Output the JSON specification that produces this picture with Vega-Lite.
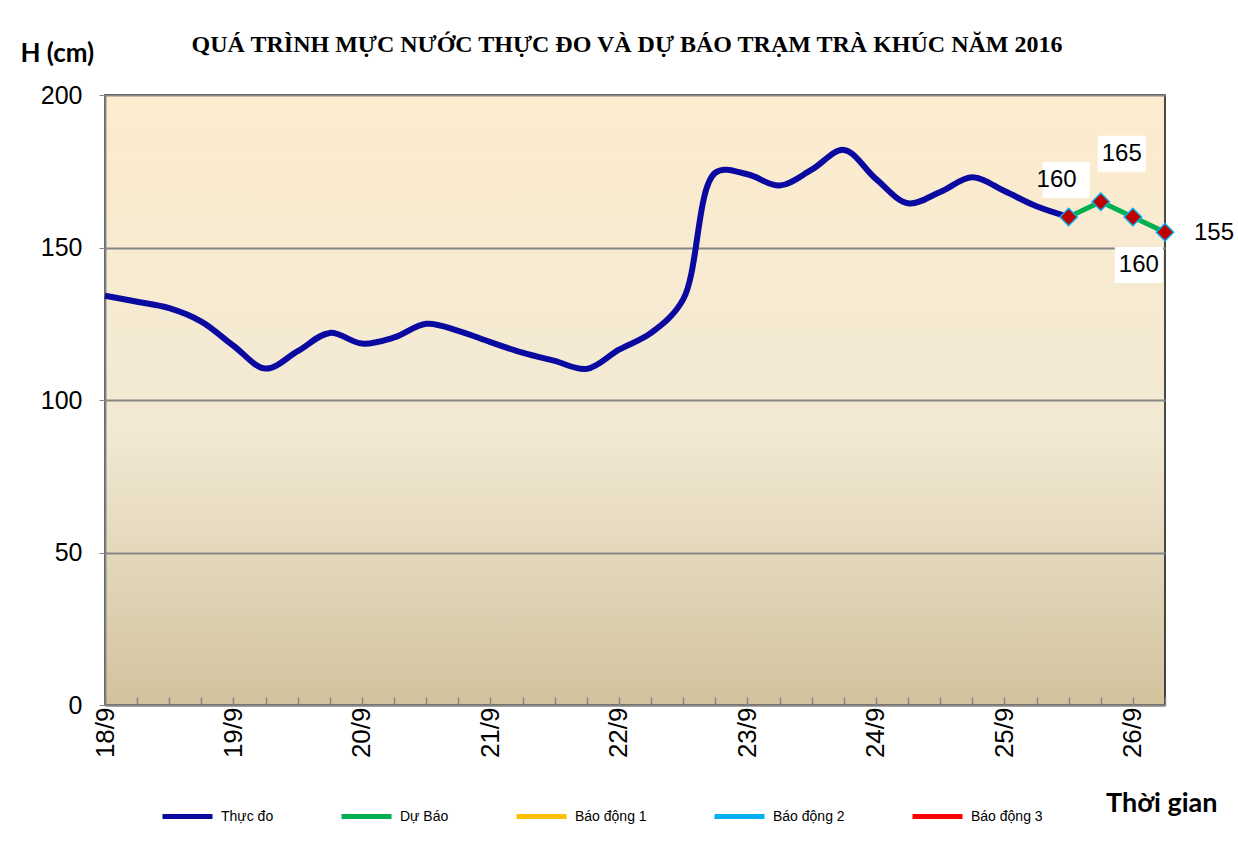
{
  "$schema": "https://vega.github.io/schema/vega-lite/v6.json",
  "width": 1060,
  "height": 610,
  "autosize": {"type": "none"},
  "padding": {"left": 105, "top": 95, "right": 73, "bottom": 147},
  "background": "white",
  "config": {
    "font": "Liberation Sans",
    "view": {
      "stroke": "#111111",
      "strokeWidth": 1.5,
      "fill": {
        "gradient": "linear",
        "x1": 0, "y1": 0, "x2": 0, "y2": 1,
        "stops": [
          {"offset": 0, "color": "#fdecce"},
          {"offset": 0.55, "color": "#f2e9d4"},
          {"offset": 1, "color": "#d2c39e"}
        ]
      }
    }
  },
  "title": {
    "text": "QUÁ TRÌNH MỰC NƯỚC THỰC ĐO VÀ DỰ BÁO TRẠM TRÀ KHÚC NĂM 2016",
    "font": "Liberation Serif",
    "fontSize": 24,
    "fontWeight": "bold",
    "color": "#000000",
    "anchor": "middle",
    "dx": -8,
    "dy": 21
  },
  "data": {
    "values": [
      {"t": "2016-09-18T00:00Z", "series": "Thực đo", "h": 134.2},
      {"t": "2016-09-18T06:00Z", "series": "Thực đo", "h": 132.2},
      {"t": "2016-09-18T12:00Z", "series": "Thực đo", "h": 130.1},
      {"t": "2016-09-18T18:00Z", "series": "Thực đo", "h": 125.7},
      {"t": "2016-09-19T00:00Z", "series": "Thực đo", "h": 117.8},
      {"t": "2016-09-19T06:00Z", "series": "Thực đo", "h": 110.3},
      {"t": "2016-09-19T12:00Z", "series": "Thực đo", "h": 116},
      {"t": "2016-09-19T18:00Z", "series": "Thực đo", "h": 122},
      {"t": "2016-09-20T00:00Z", "series": "Thực đo", "h": 118.5},
      {"t": "2016-09-20T06:00Z", "series": "Thực đo", "h": 120.5},
      {"t": "2016-09-20T12:00Z", "series": "Thực đo", "h": 125},
      {"t": "2016-09-20T18:00Z", "series": "Thực đo", "h": 122.7},
      {"t": "2016-09-21T00:00Z", "series": "Thực đo", "h": 119},
      {"t": "2016-09-21T06:00Z", "series": "Thực đo", "h": 115.5},
      {"t": "2016-09-21T12:00Z", "series": "Thực đo", "h": 112.8},
      {"t": "2016-09-21T18:00Z", "series": "Thực đo", "h": 110.2},
      {"t": "2016-09-22T00:00Z", "series": "Thực đo", "h": 116.5},
      {"t": "2016-09-22T06:00Z", "series": "Thực đo", "h": 122},
      {"t": "2016-09-22T12:00Z", "series": "Thực đo", "h": 133},
      {"t": "2016-09-22T18:00Z", "series": "Thực đo", "h": 174.5},
      {"t": "2016-09-23T00:00Z", "series": "Thực đo", "h": 174},
      {"t": "2016-09-23T06:00Z", "series": "Thực đo", "h": 170.3},
      {"t": "2016-09-23T12:00Z", "series": "Thực đo", "h": 175.5},
      {"t": "2016-09-23T18:00Z", "series": "Thực đo", "h": 182},
      {"t": "2016-09-24T00:00Z", "series": "Thực đo", "h": 172.5},
      {"t": "2016-09-24T06:00Z", "series": "Thực đo", "h": 164.5},
      {"t": "2016-09-24T12:00Z", "series": "Thực đo", "h": 168.2},
      {"t": "2016-09-24T18:00Z", "series": "Thực đo", "h": 173},
      {"t": "2016-09-25T00:00Z", "series": "Thực đo", "h": 168.5},
      {"t": "2016-09-25T06:00Z", "series": "Thực đo", "h": 163.5},
      {"t": "2016-09-25T12:00Z", "series": "Thực đo", "h": 160},
      {"t": "2016-09-25T12:00Z", "series": "Dự Báo", "h": 160},
      {"t": "2016-09-25T18:00Z", "series": "Dự Báo", "h": 165},
      {"t": "2016-09-26T00:00Z", "series": "Dự Báo", "h": 160},
      {"t": "2016-09-26T06:00Z", "series": "Dự Báo", "h": 155}
    ]
  },
  "encoding": {
    "x": {
      "field": "t",
      "type": "temporal",
      "scale": {
        "type": "utc",
        "nice": false,
        "domain": [
          {"year": 2016, "month": 9, "date": 18, "hours": 0, "utc": true},
          {"year": 2016, "month": 9, "date": 26, "hours": 6, "utc": true}
        ]
      },
      "axis": {
        "title": "Thời gian",
        "titleFont": "Lato",
        "titleFontSize": 27,
        "titleFontWeight": "bold",
        "titleColor": "#000000",
        "titleAlign": "right",
        "titleBaseline": "middle",
        "titleX": 1112,
        "titleY": 98,
        "labelExpr": "utchours(datum.value) == 0 ? utcFormat(datum.value, '%-d/%-m') : ''",
        "labelAngle": 270,
        "labelFontSize": 26,
        "labelColor": "#000000",
        "labelPadding": 10,
        "labelOverlap": false,
        "labelFlush": false,
        "domainColor": "#868686",
        "domainWidth": 2,
        "tickColor": "#868686",
        "tickWidth": 1.5,
        "tickSize": -8,
        "grid": false
      }
    },
    "y": {
      "field": "h",
      "type": "quantitative",
      "scale": {"domain": [0, 200], "nice": false},
      "axis": {
        "title": "H (cm)",
        "titleFont": "Lato",
        "titleFontSize": 26,
        "titleFontWeight": "bold",
        "titleColor": "#000000",
        "titleAngle": 0,
        "titleAlign": "left",
        "titleBaseline": "middle",
        "titleX": -85,
        "titleY": -42,
        "values": [0, 50, 100, 150, 200],
        "labelFontSize": 25,
        "labelColor": "#000000",
        "labelPadding": 17,
        "domainColor": "#868686",
        "domainWidth": 2,
        "tickColor": "#868686",
        "tickSize": 6,
        "grid": true,
        "gridColor": "#868686",
        "gridWidth": 2
      }
    }
  },
  "layer": [
    {
      "transform": [{"filter": {"and": [{"field": "series", "equal": "Dự Báo"}, {"field": "t", "equal": {"year": 2016, "month": 9, "date": 25, "hours": 12, "utc": true}}]}}],
      "mark": {"type": "point", "shape": "M-2.6,-5.5H2.1V-1.9H-2.6Z", "filled": true, "fill": "#ffffff", "strokeWidth": 0, "size": 400, "opacity": 1},
      "encoding": {}
    },
    {
      "transform": [{"filter": {"and": [{"field": "series", "equal": "Dự Báo"}, {"field": "t", "equal": {"year": 2016, "month": 9, "date": 25, "hours": 18, "utc": true}}]}}],
      "mark": {"type": "point", "shape": "M-0.3,-6.6H4.5V-3H-0.3Z", "filled": true, "fill": "#ffffff", "strokeWidth": 0, "size": 400, "opacity": 1},
      "encoding": {}
    },
    {
      "transform": [{"filter": {"and": [{"field": "series", "equal": "Dự Báo"}, {"field": "t", "equal": {"year": 2016, "month": 9, "date": 26, "hours": 0, "utc": true}}]}}],
      "mark": {"type": "point", "shape": "M-1.8,3H3V6.6H-1.8Z", "filled": true, "fill": "#ffffff", "strokeWidth": 0, "size": 400, "opacity": 1},
      "encoding": {}
    },
    {
      "transform": [{"filter": "datum.series == 'Thực đo'"}],
      "mark": {"type": "line", "interpolate": "catmull-rom", "strokeWidth": 6},
      "encoding": {
        "color": {
          "field": "series",
          "type": "nominal",
          "scale": {
            "domain": ["Thực đo", "Dự Báo", "Báo động 1", "Báo động 2", "Báo động 3"],
            "range": ["#0a0aa0", "#00b050", "#ffc000", "#00b0f0", "#ff0000"]
          },
          "legend": {
            "title": null,
            "orient": "none",
            "legendX": 55,
            "legendY": 694,
            "direction": "horizontal",
            "gridAlign": "none",
            "columnPadding": 57,
            "symbolType": "stroke",
            "symbolSize": 2500,
            "symbolStrokeWidth": 5,
            "labelFontSize": 14,
            "labelOffset": 6,
            "labelColor": "#000000"
          }
        }
      }
    },
    {
      "transform": [{"filter": "datum.series == 'Dự Báo'"}],
      "mark": {"type": "line", "strokeWidth": 5},
      "encoding": {"color": {"field": "series", "type": "nominal"}}
    },
    {
      "transform": [{"filter": "datum.series == 'Dự Báo'"}],
      "mark": {"type": "point", "shape": "diamond", "filled": true, "fill": "#c00000", "stroke": "#00b0f0", "strokeWidth": 1.5, "size": 300, "opacity": 1},
      "encoding": {}
    },
    {
      "transform": [{"filter": {"and": [{"field": "series", "equal": "Dự Báo"}, {"field": "t", "equal": {"year": 2016, "month": 9, "date": 25, "hours": 12, "utc": true}}]}}],
      "mark": {"type": "text", "fontSize": 24, "dx": -12, "dy": -37, "color": "#000000"},
      "encoding": {"text": {"field": "h", "type": "quantitative"}}
    },
    {
      "transform": [{"filter": {"and": [{"field": "series", "equal": "Dự Báo"}, {"field": "t", "equal": {"year": 2016, "month": 9, "date": 25, "hours": 18, "utc": true}}]}}],
      "mark": {"type": "text", "fontSize": 24, "dx": 21, "dy": -48, "color": "#000000"},
      "encoding": {"text": {"field": "h", "type": "quantitative"}}
    },
    {
      "transform": [{"filter": {"and": [{"field": "series", "equal": "Dự Báo"}, {"field": "t", "equal": {"year": 2016, "month": 9, "date": 26, "hours": 0, "utc": true}}]}}],
      "mark": {"type": "text", "fontSize": 24, "dx": 6, "dy": 48, "color": "#000000"},
      "encoding": {"text": {"field": "h", "type": "quantitative"}}
    },
    {
      "transform": [{"filter": {"and": [{"field": "series", "equal": "Dự Báo"}, {"field": "t", "equal": {"year": 2016, "month": 9, "date": 26, "hours": 6, "utc": true}}]}}],
      "mark": {"type": "text", "fontSize": 24, "dx": 49, "dy": 1, "color": "#000000"},
      "encoding": {"text": {"field": "h", "type": "quantitative"}}
    }
  ]
}
